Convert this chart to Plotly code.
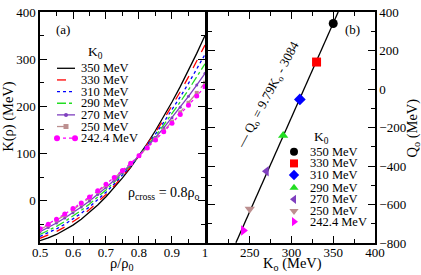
import plotly.graph_objects as go

# ---------------- data ----------------
rho = [0.5, 0.525, 0.55, 0.575, 0.6, 0.625, 0.65, 0.675, 0.7, 0.725, 0.75,
       0.775, 0.8, 0.825, 0.85, 0.875, 0.9, 0.925, 0.95, 0.975, 1.0]

K_350 = [-85.0, -79.3, -71.9, -62.8, -52.0, -39.6, -25.4, -9.5, 8.0, 27.2, 48.1,
         70.7, 95.0, 120.9, 148.6, 178.0, 209.0, 241.7, 276.1, 312.2, 350.0]
K_330 = [-80.0, -73.5, -65.6, -56.2, -45.4, -33.0, -19.1, -3.8, 13.0, 31.3, 51.1,
         72.2, 95.0, 119.2, 144.9, 172.1, 200.6, 230.8, 262.3, 295.4, 330.0]
K_310 = [-76.0, -68.7, -60.1, -50.3, -39.2, -26.9, -13.3, 1.7, 17.8, 35.2, 53.8,
         73.8, 95.0, 117.4, 141.2, 166.2, 192.4, 219.9, 248.7, 278.7, 310.0]
K_290 = [-72.0, -63.8, -54.6, -44.3, -33.0, -20.7, -7.4, 7.1, 22.6, 39.1, 56.7,
         75.3, 95.0, 115.7, 137.5, 160.3, 184.2, 209.1, 235.0, 261.9, 290.0]
K_270 = [-66.0, -57.2, -47.6, -37.1, -25.8, -13.7, -0.8, 13.1, 27.8, 43.3, 59.7,
         76.9, 95.0, 113.9, 133.7, 154.3, 175.8, 198.1, 221.2, 245.1, 270.0]
K_250 = [-62.0, -52.3, -42.1, -31.2, -19.8, -7.6, 5.2, 18.6, 32.6, 47.2, 62.6,
         78.4, 95.0, 112.2, 130.0, 148.4, 167.4, 187.2, 207.4, 228.4, 250.0]
K_242 = [-60.0, -50.1, -39.6, -28.6, -17.0, -4.9, 7.6, 20.8, 34.6, 48.9, 63.7,
         79.1, 95.0, 111.5, 128.5, 146.1, 164.2, 182.8, 202.0, 221.7, 242.0]

series_labels = ["350 MeV", "330 MeV", "310 MeV", "290 MeV", "270 MeV", "250 MeV", "242.4 MeV"]
K_curves = [K_350, K_330, K_310, K_290, K_270, K_250, K_242]

K0_vals = [350, 330, 310, 290, 270, 250, 242.4]
Q0_vals = [340, 140, -54, -241, -427, -624, -735]

fit_K = [233.4, 355.9]
fit_Q = [-799, 400]

# ---------------- styles ----------------
colors = ["#000000", "#ff0000", "#0000ff", "#22dd22", "#7f3fbf", "#bc8f8f", "#ff00ff"]
dashes = ["solid", "dash", "dot", "dashdot", "solid", "dash", "dot"]
line_markers = [None, None, None, None, ("circle", 3), ("square", 4), ("circle", 5)]
pt_symbols = ["circle", "square", "diamond", "triangle-up", "triangle-left",
              "triangle-down", "triangle-right"]
FONT = "Liberation Serif, Times New Roman, serif"

fig = go.Figure()

# left panel curves
for lab, ys, c, d, m in zip(series_labels, K_curves, colors, dashes, line_markers):
    kw = dict(x=rho, y=ys, name=lab, xaxis="x", yaxis="y", showlegend=False,
              line=dict(color=c, dash=d, width=1.3))
    if m is None:
        kw["mode"] = "lines"
    else:
        kw["mode"] = "lines+markers"
        kw["marker"] = dict(symbol=m[0], size=m[1], color=c)
    fig.add_trace(go.Scatter(**kw))

# right panel fit line and points
fig.add_trace(go.Scatter(x=fit_K, y=fit_Q, mode="lines", xaxis="x2", yaxis="y2",
                         line=dict(color="black", width=1.3), showlegend=False))
for k, q, c, s, lab in zip(K0_vals, Q0_vals, colors, pt_symbols, series_labels):
    fig.add_trace(go.Scatter(x=[k], y=[q], mode="markers", xaxis="x2", yaxis="y2",
                             marker=dict(symbol=s, size=9, color=c), name=lab,
                             showlegend=False))

# ---------------- hand-drawn legends (page-pixel overlay axis) ----------------
ann = []
L_y = [63, 75, 87, 99, 111, 123, 135]
for i, (lab, c, d, m) in enumerate(zip(series_labels, colors, dashes, line_markers)):
    y = L_y[i]
    fig.add_trace(go.Scatter(x=[57, 75], y=[y, y], mode="lines", xaxis="x3", yaxis="y3",
                             line=dict(color=c, dash=d, width=1.3), showlegend=False,
                             hoverinfo="skip"))
    if m is not None:
        mx = [57, 75] if i == 6 else [66]
        fig.add_trace(go.Scatter(x=mx, y=[y] * len(mx), mode="markers", xaxis="x3",
                                 yaxis="y3", marker=dict(symbol=m[0], size=m[1] + 1, color=c),
                                 showlegend=False, hoverinfo="skip"))
    ann.append(dict(x=79, y=y, xref="x3", yref="y3", text=lab, showarrow=False,
                    xanchor="left", yanchor="middle", font=dict(family=FONT, size=12.5)))
ann.append(dict(x=95, y=47, xref="x3", yref="y3", text="K<sub>0</sub>", showarrow=False,
                xanchor="center", yanchor="middle", font=dict(family=FONT, size=13.5)))

R_y = [149, 161, 173, 186, 198, 210, 221]
for i, (lab, c, s) in enumerate(zip(series_labels, colors, pt_symbols)):
    y = R_y[i]
    fig.add_trace(go.Scatter(x=[294], y=[y], mode="markers", xaxis="x3", yaxis="y3",
                             marker=dict(symbol=s, size=8, color=c), showlegend=False,
                             hoverinfo="skip"))
    ann.append(dict(x=308, y=y, xref="x3", yref="y3", text=lab, showarrow=False,
                    xanchor="left", yanchor="middle", font=dict(family=FONT, size=12.5)))
ann.append(dict(x=321, y=134, xref="x3", yref="y3", text="K<sub>0</sub>", showarrow=False,
                xanchor="center", yanchor="middle", font=dict(family=FONT, size=13.5)))

def px_to_paper(px, py):
    return (px - 40) / 335.0, (243 - py) / 238.0

# panel labels, texts, axis titles
ann += [
    dict(x=63, y=23, xref="x3", yref="y3", text="(a)", showarrow=False,
         font=dict(family=FONT, size=13)),
    dict(x=352, y=23, xref="x3", yref="y3", text="(b)", showarrow=False,
         font=dict(family=FONT, size=13)),
    dict(x=164, y=192, xref="x3", yref="y3", text="ρ<sub>cross</sub> = 0.8ρ<sub>o</sub>",
         showarrow=False, font=dict(family=FONT, size=14)),
    dict(x=268, y=91, xref="x3", yref="y3",
         text="— Q<sub>o</sub> = 9.79K<sub>o</sub> - 3084", textangle=-62,
         showarrow=False, font=dict(family=FONT, size=13)),
]
for txt, (px, py), ang in [("K(ρ) (MeV)", (9, 113), -90),
                           ("Q<sub>o</sub> (MeV)", (413, 125), -90),
                           ("ρ/ρ<sub>0</sub>", (122, 265), 0),
                           ("K<sub>o</sub> (MeV)", (292, 265), 0)]:
    xp, yp = px_to_paper(px, py)
    ann.append(dict(x=xp, y=yp, xref="paper", yref="paper", text=txt, textangle=ang,
                    showarrow=False, xanchor="center", yanchor="middle",
                    font=dict(family=FONT, size=14.5)))

axis_common = dict(showline=True, linecolor="black", linewidth=1.5, mirror="ticks",
                   ticks="inside", ticklen=7, tickwidth=1, tickcolor="black",
                   showgrid=False, zeroline=False, ticklabeloverflow="allow",
                   tickfont=dict(family=FONT, size=13, color="black"))

fig.update_layout(
    width=421, height=275,
    margin=dict(l=40, r=46, t=5, b=32),
    paper_bgcolor="white", plot_bgcolor="rgba(0,0,0,0)",
    showlegend=False,
    font=dict(family=FONT, color="black"),
    xaxis=dict(domain=[0, 0.4925], range=[0.5, 1], tick0=0.5, dtick=0.1, anchor="y",
               ticklabelstandoff=-3,
               minor=dict(dtick=0.05, tick0=0.5, ticks="inside", ticklen=4,
                          tickcolor="black"), **axis_common),
    yaxis=dict(domain=[0, 1], range=[-90, 400], tick0=0, dtick=100, anchor="x",
               minor=dict(dtick=50, tick0=0, ticks="inside", ticklen=4,
                          tickcolor="black"), **axis_common),
    xaxis2=dict(domain=[0.5015, 1], range=[200, 400], tickmode="array",
                tickvals=[250, 300, 350, 400], anchor="y2", ticklabelstandoff=-3,
                minor=dict(dtick=25, tick0=200, ticks="inside", ticklen=4,
                           tickcolor="black"), **axis_common),
    yaxis2=dict(domain=[0, 1], range=[-800, 400], tick0=0, dtick=200, anchor="x2",
                side="right",
                minor=dict(dtick=100, tick0=0, ticks="inside", ticklen=4,
                           tickcolor="black"), **axis_common),
    xaxis3=dict(domain=[0, 1], range=[40, 375], visible=False, anchor="y3", fixedrange=True),
    yaxis3=dict(domain=[0, 1], range=[243, 5], visible=False, anchor="x3", fixedrange=True),
    annotations=ann,
)

fig.write_html("out.html", config={"displayModeBar": False},
               post_script="document.body.style.margin='0px';")
